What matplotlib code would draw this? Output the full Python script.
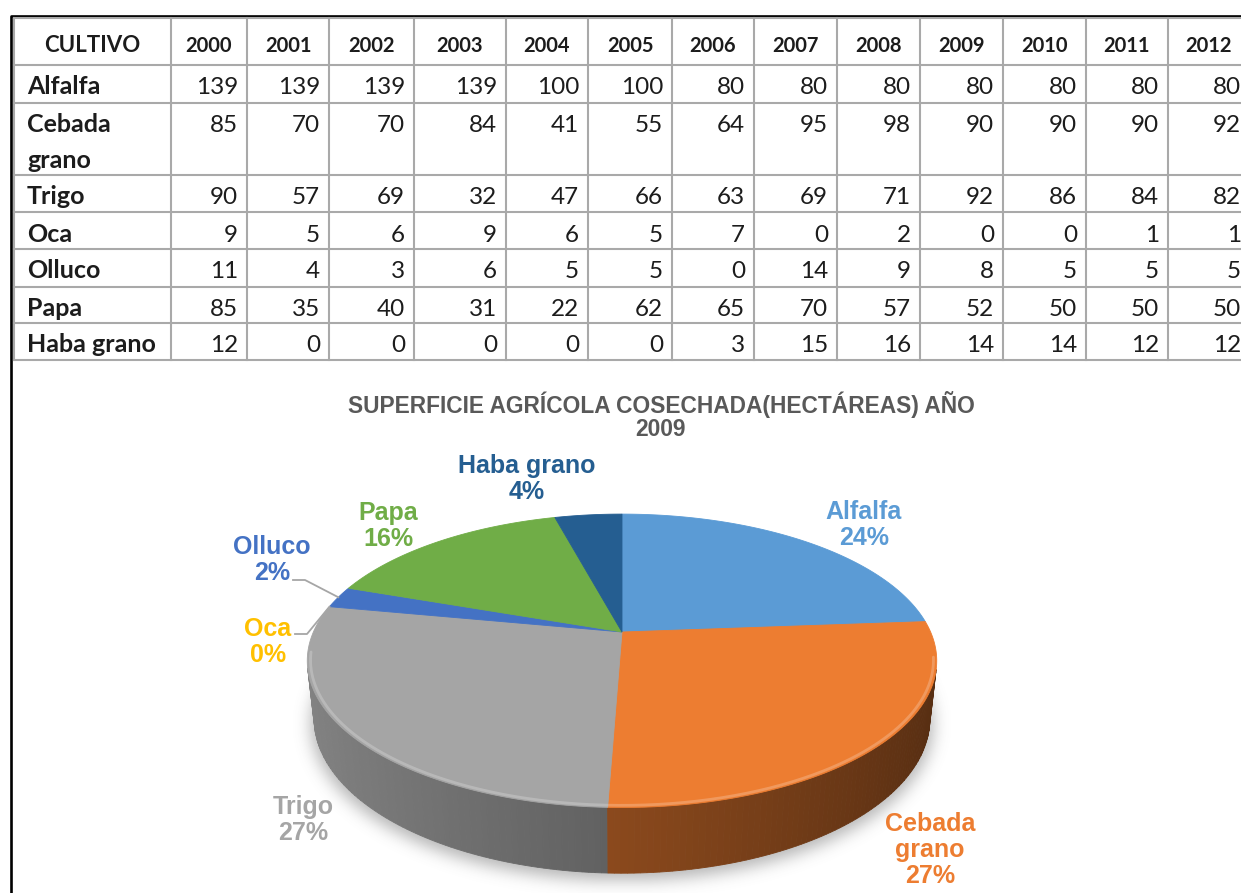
import numpy as np
import matplotlib
matplotlib.use('Agg')
import matplotlib.pyplot as plt
from matplotlib.path import Path

# Superficie agricola cosechada (hectareas) por cultivo y año
anios = ['2000', '2001', '2002', '2003', '2004', '2005', '2006',
         '2007', '2008', '2009', '2010', '2011', '2012']
cultivos = ['Alfalfa', 'Cebada\ngrano', 'Trigo', 'Oca', 'Olluco', 'Papa', 'Haba grano']
alfalfa = [139, 139, 139, 139, 100, 100, 80, 80, 80, 80, 80, 80, 80]
cebada = [85, 70, 70, 84, 41, 55, 64, 95, 98, 90, 90, 90, 92]
trigo = [90, 57, 69, 32, 47, 66, 63, 69, 71, 92, 86, 84, 82]
oca = [9, 5, 6, 9, 6, 5, 7, 0, 2, 0, 0, 1, 1]
olluco = [11, 4, 3, 6, 5, 5, 0, 14, 9, 8, 5, 5, 5]
papa = [85, 35, 40, 31, 22, 62, 65, 70, 57, 52, 50, 50, 50]
haba = [12, 0, 0, 0, 0, 0, 3, 15, 16, 14, 14, 12, 12]
filas = [alfalfa, cebada, trigo, oca, olluco, papa, haba]

anio_graf = '2009'
colores = ['#5B9BD5', '#ED7D31', '#A5A5A5', '#FFC000', '#4472C4', '#70AD47', '#255E91']

# --- disposicion (pixeles) ---
col_x = [14, 171, 247, 329, 414, 506, 588, 672, 754, 837, 920, 1003, 1086, 1168, 1250]
fila_y = [18, 65, 103, 175, 212, 249, 287, 323, 360]
pos_etiq = [(864, 525), (930, 850), (303, 820), (268, 642), (272, 560), (388, 526), (527, 479)]
guias = {3: (27, -8), 4: (21, 20)}   # inicio de la linea guia respecto a la etiqueta

fuente_tabla = 'Lato'
fuente_graf = 'Liberation Sans'

fig = plt.figure(figsize=(12.41, 8.93), dpi=100)
ax = fig.add_axes([0, 0, 1, 1])
ax.set_xlim(0, 1241)
ax.set_ylim(893, 0)
ax.axis('off')

# marco negro
ax.plot([11, 11, 1241], [893, 15.5, 15.5], color='black', lw=1.9, solid_capstyle='butt')

# ---------------- tabla ----------------
gris_linea = '#a9a9a9'
for x in col_x:
    ax.plot([x, x], [fila_y[0], fila_y[-1]], color=gris_linea, lw=1.5)
for y in fila_y:
    ax.plot([col_x[0], col_x[-1]], [y, y], color=gris_linea, lw=1.5)

txt = '#1c1c1c'
ax.text((col_x[0] + col_x[1]) / 2, fila_y[0] + 34, 'CULTIVO', ha='center', va='baseline',
        fontsize=16, fontweight='bold', family=fuente_tabla, color=txt)
for j, a in enumerate(anios):
    ax.text((col_x[j + 1] + col_x[j + 2]) / 2, fila_y[0] + 33.5, a, ha='center', va='baseline',
            fontsize=14.5, fontweight='bold', family=fuente_tabla, color=txt)

for i, (nombre, vals) in enumerate(zip(cultivos, filas)):
    top = fila_y[i + 1]
    for k, linea in enumerate(nombre.split('\n')):
        ax.text(27, top + 29.5 + 35 * k, linea, ha='left', va='baseline',
                fontsize=18, fontweight='bold', family=fuente_tabla, color=txt)
    for j, v in enumerate(vals):
        ax.text(col_x[j + 2] - 9, top + 29.5, str(v), ha='right', va='baseline',
                fontsize=17.5, family=fuente_tabla, color=txt)

# ---------------- grafico circular 3D ----------------
idx = anios.index(anio_graf)
valores = np.array([f[idx] for f in filas], dtype=float)
total = valores.sum()

# porcentajes redondeados que suman 100
crudo = valores / total * 100
porc = np.floor(crudo).astype(int)
faltan = 100 - porc.sum()
for k in np.argsort(-(crudo - porc))[:faltan]:
    porc[k] += 1

cx, cy = 622, 632
elev = np.radians(27.2)
dist = 4.53
foco = 1398
grosor = 0.211
ce, se = np.cos(elev), np.sin(elev)


def proyectar(x, y, z):
    qy = y + dist * ce
    qz = z - dist * se
    prof = qy * ce - qz * se
    arriba = qy * se + qz * ce
    return cx + foco * x / prof, cy - foco * arriba / prof


def arco(a0, a1, r=1.0, z=0.0, paso=0.5):
    n = max(2, int(np.ceil((a1 - a0) / paso)) + 1)
    a = np.radians(np.linspace(a0, a1, n))
    return proyectar(r * np.sin(a), r * np.cos(a), z)


bordes = np.concatenate([[0], np.cumsum(valores)]) / total * 360

# sombra difusa bajo el grafico
bx, by = arco(0, 360, r=1.01, z=-grosor)
by = by + 5
x0, x1, y0, y1 = 260, 990, 560, 893
gy, gx = np.mgrid[y0:y1, x0:x1]
masc = Path(np.column_stack([bx, by])).contains_points(
    np.column_stack([gx.ravel() + 0.5, gy.ravel() + 0.5])).reshape(gx.shape).astype(float)
t = np.arange(-24, 25)
nucleo = np.exp(-t ** 2 / (2 * 8.0 ** 2))
nucleo /= nucleo.sum()
masc = np.apply_along_axis(lambda m: np.convolve(m, nucleo, mode='same'), 1, masc)
masc = np.apply_along_axis(lambda m: np.convolve(m, nucleo, mode='same'), 0, masc)
img = np.zeros(masc.shape + (4,))
img[..., :3] = 0.35
img[..., 3] = masc * 0.45
ax.imshow(img, extent=(x0, x1, y1, y0), origin='upper', aspect='auto', zorder=1)

# pared lateral
caras = []
limite = -1 / (dist * ce)
for i, col in enumerate(colores):
    a0, a1 = bordes[i], bordes[i + 1]
    if a1 - a0 <= 0:
        continue
    angs = np.linspace(a0, a1, max(2, int(np.ceil(a1 - a0)) + 1))
    base = np.array(matplotlib.colors.to_rgb(col))
    for p, q in zip(angs[:-1], angs[1:]):
        am = np.radians((p + q) / 2)
        if np.cos(am) >= limite:
            continue
        k = 0.58 - 0.22 * np.sin(am)
        tx, ty = arco(p, q, paso=0.25)
        bx_, by_ = arco(p, q, z=-grosor, paso=0.25)
        xs = np.concatenate([tx, bx_[::-1]])
        ys = np.concatenate([ty, by_[::-1]])
        caras.append((np.cos(am), xs, ys, np.clip(base * k, 0, 1)))
caras.sort(key=lambda c: -c[0])
for _, xs, ys, c in caras:
    ax.fill(xs, ys, color=c, ec=c, lw=0.6, zorder=2)

# cara superior
for i, col in enumerate(colores):
    a0, a1 = bordes[i], bordes[i + 1]
    if a1 - a0 <= 0:
        continue
    tx, ty = arco(a0, a1)
    xs = np.concatenate([[cx], tx])
    ys = np.concatenate([[cy], ty])
    ax.fill(xs, ys, color=col, ec=col, lw=0.6, zorder=3)

# brillo del bisel en el borde frontal
hx, hy = arco(100, 262, r=0.99)
ax.plot(hx, hy, color='white', alpha=0.22, lw=2.0, zorder=4, solid_capstyle='round')

# etiquetas
for i, (nombre, col) in enumerate(zip(cultivos, colores)):
    lx, ly = pos_etiq[i]
    ax.text(lx, ly, f'{nombre}\n{porc[i]}%', ha='center', va='center', multialignment='center',
            fontsize=18, fontweight='bold', family=fuente_graf, color=col,
            linespacing=1.12, zorder=5)
    if i in guias:
        dx, dy = guias[i]
        am = np.radians((bordes[i] + bordes[i + 1]) / 2)
        rx, ry = proyectar(np.sin(am), np.cos(am), 0)
        ax.plot([lx + dx, lx + dx + 12, rx], [ly + dy, ly + dy, ry],
                color='#a6a6a6', lw=1.3, zorder=5)

ax.text(661, 416, 'SUPERFICIE AGRÍCOLA COSECHADA(HECTÁREAS) AÑO\n' + anio_graf,
        ha='center', va='center', fontsize=16.4, fontweight='bold', family=fuente_graf,
        color='#595959', linespacing=1.0)

fig.savefig('out.png', dpi=100)
